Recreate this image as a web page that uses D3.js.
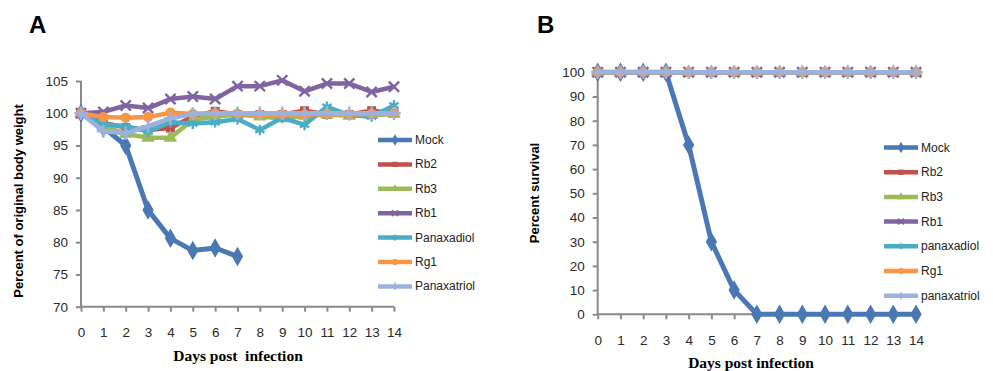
<!DOCTYPE html>
<html>
<head>
<meta charset="utf-8">
<script src="https://cdn.jsdelivr.net/npm/d3@7"></script>
<style>
  body { margin: 0; background: #fff; }
  svg { display: block; font-family: "Liberation Sans", Arial, sans-serif; }
  .tick-label { font-size: 13.5px; fill: #2a2a2a; }
  .legend-label { font-size: 12px; fill: #222; }
</style>
</head>
<body>
<svg id="chart" width="993" height="371"></svg>
<script>
// ---- data ----
const days = d3.range(0, 15);
const weightTicks = [70, 75, 80, 85, 90, 95, 100, 105];
const survivalTicks = [0, 10, 20, 30, 40, 50, 60, 70, 80, 90, 100];

// panel A: percent of original body weight
const weightMock = [100, 97.8, 95.0, 85.0, 80.6, 78.7, 79.1, 77.8];
const weightRb2 = [100, 98.5, 97.8, 97.4, 97.7, 99.5, 100.3, 99.8, 99.8, 99.8, 100.4, 99.8, 99.8, 100.4, 100];
const weightRb3 = [100, 98.0, 96.8, 96.2, 96.2, 99.0, 99.5, 99.8, 99.5, 99.2, 99.6, 99.8, 99.6, 99.7, 99.9];
const weightRb1 = [100, 100.2, 101.2, 100.8, 102.2, 102.6, 102.2, 104.2, 104.2, 105.1, 103.4, 104.6, 104.6, 103.3, 104.1];
const weightPanaxadiol = [100, 98.3, 98.0, 97.2, 98.6, 98.4, 98.6, 99.1, 97.4, 99.3, 98.2, 101.0, 99.7, 99.5, 101.2];
const weightRg1 = [100, 99.4, 99.3, 99.4, 100.1, 99.9, 100, 99.9, 99.8, 99.8, 99.8, 99.9, 99.8, 99.9, 100];
const weightPanaxatriol = [100, 97.2, 96.9, 98.0, 99.2, 99.9, 100, 100, 100, 100, 100, 100, 100, 100, 100];

// panel B: percent survival
const survivalMock = [100, 100, 100, 100, 70, 30, 10, 0, 0, 0, 0, 0, 0, 0, 0];
const survivalRb2 = [100, 100, 100, 100, 100, 100, 100, 100, 100, 100, 100, 100, 100, 100, 100];
const survivalRb3 = [100, 100, 100, 100, 100, 100, 100, 100, 100, 100, 100, 100, 100, 100, 100];
const survivalRb1 = [100, 100, 100, 100, 100, 100, 100, 100, 100, 100, 100, 100, 100, 100, 100];
const survivalPanaxadiol = [100, 100, 100, 100, 100, 100, 100, 100, 100, 100, 100, 100, 100, 100, 100];
const survivalRg1 = [100, 100, 100, 100, 100, 100, 100, 100, 100, 100, 100, 100, 100, 100, 100];
const survivalPanaxatriol = [100, 100, 100, 100, 100, 100, 100, 100, 100, 100, 100, 100, 100, 100, 100];

const namesA = ['Mock', 'Rb2', 'Rb3', 'Rb1', 'Panaxadiol', 'Rg1', 'Panaxatriol'];
const namesB = ['Mock', 'Rb2', 'Rb3', 'Rb1', 'panaxadiol', 'Rg1', 'panaxatriol'];

// ---- styling ----
const colors = ['#4a78b5', '#c0504d', '#9bbb59', '#8064a2', '#4bacc6', '#f79646', '#9bb2dc'];
const symbols = [d3.symbolDiamond, d3.symbolSquare, d3.symbolTriangle, d3.symbolX, d3.symbolAsterisk, d3.symbolCircle, d3.symbolPlus];
const symbolSizes = [110, 80, 80, 70, 80, 80, 60];
const strokeSymbols = [false, false, false, true, true, false, true];
const axisColor = '#8a8a8a';

const svg = d3.select('#chart');

function marker(g, i, x, y, scale = 1) {
  const path = d3.symbol().type(symbols[i]).size(symbolSizes[i] * scale)();
  const m = g.append('path')
    .attr('d', path)
    .attr('transform', `translate(${x},${y})`);
  if (strokeSymbols[i]) {
    m.attr('fill', 'none').attr('stroke', colors[i]).attr('stroke-width', scale < 1 ? 1.5 : 2.4);
  } else {
    m.attr('fill', colors[i]);
  }
}

function drawPanel(opts) {
  const { seriesList, names, yDomain, yTicks, xRange, yRange, legendX, legendY, legendStep } = opts;
  const g = svg.append('g');

  const x = d3.scaleLinear().domain([0, 14]).range(xRange);
  const y = d3.scaleLinear().domain(yDomain).range(yRange);

  // axes
  const xAxis = d3.axisBottom(x).tickValues(days).tickSize(5).tickPadding(16).tickFormat(d3.format('d'));
  const yAxis = d3.axisLeft(y).tickValues(yTicks).tickSize(5).tickPadding(8);

  const gx = g.append('g').attr('transform', `translate(0,${yRange[0]})`).call(xAxis);
  const gy = g.append('g').attr('transform', `translate(${xRange[0]},0)`).call(yAxis);
  [gx, gy].forEach(a => {
    a.select('.domain').attr('stroke', axisColor).attr('stroke-width', 2);
    a.selectAll('.tick line').attr('stroke', axisColor).attr('stroke-width', 2);
    a.selectAll('.tick text').attr('class', 'tick-label').attr('font-family', null).attr('font-size', null);
  });
  gx.select('.domain').attr('d', `M${xRange[0]},0H${xRange[1]}`);
  gy.select('.domain').attr('d', `M0,${yRange[0]}V${yRange[1]}`);

  // series
  const line = d3.line().x((d, i) => x(i)).y(d => y(d));
  seriesList.forEach((vals, i) => {
    const sg = g.append('g');
    sg.append('path')
      .datum(vals)
      .attr('d', line)
      .attr('fill', 'none')
      .attr('stroke', colors[i])
      .attr('stroke-width', i === 0 ? 5 : 4.5)
      .attr('stroke-linejoin', 'round');
    vals.forEach((v, j) => marker(sg, i, x(j), y(v)));
  });

  // legend
  names.forEach((name, i) => {
    const ly = legendY + i * legendStep;
    const lg = g.append('g');
    lg.append('line')
      .attr('x1', legendX).attr('x2', legendX + 34)
      .attr('y1', ly).attr('y2', ly)
      .attr('stroke', colors[i]).attr('stroke-width', 4.5);
    marker(lg, i, legendX + 17, ly, 0.35);
    lg.append('text')
      .attr('class', 'legend-label')
      .attr('x', legendX + 37).attr('y', ly + 4)
      .text(name);
  });
  return g;
}

drawPanel({
  seriesList: [weightMock, weightRb2, weightRb3, weightRb1, weightPanaxadiol, weightRg1, weightPanaxatriol],
  names: namesA,
  yDomain: [70, 105], yTicks: weightTicks,
  xRange: [81, 394], yRange: [306.7, 81],
  legendX: 378, legendY: 140, legendStep: 24.4
});

drawPanel({
  seriesList: [survivalMock, survivalRb2, survivalRb3, survivalRb1, survivalPanaxadiol, survivalRg1, survivalPanaxatriol],
  names: namesB,
  yDomain: [0, 100], yTicks: survivalTicks,
  xRange: [597.7, 916], yRange: [314.3, 72.3],
  legendX: 884, legendY: 147.5, legendStep: 24.7
});

// titles
svg.append('text').attr('x', 29).attr('y', 33)
  .attr('font-size', 24).attr('font-weight', 'bold').text('A');
svg.append('text').attr('x', 537).attr('y', 33)
  .attr('font-size', 24).attr('font-weight', 'bold').text('B');

svg.append('text')
  .attr('transform', 'translate(23,201) rotate(-90)')
  .attr('text-anchor', 'middle').attr('font-size', 13).attr('font-weight', 'bold')
  .text('Percent of original body weight');
svg.append('text')
  .attr('transform', 'translate(539,193) rotate(-90)')
  .attr('text-anchor', 'middle').attr('font-size', 13).attr('font-weight', 'bold')
  .text('Percent survival');

svg.append('text')
  .attr('x', 238).attr('y', 361)
  .attr('text-anchor', 'middle').attr('font-family', '"Liberation Serif", serif')
  .attr('font-size', 15.5).attr('font-weight', 'bold')
  .text('Days post  infection').style('white-space', 'pre');
svg.append('text')
  .attr('x', 751).attr('y', 368)
  .attr('text-anchor', 'middle').attr('font-family', '"Liberation Serif", serif')
  .attr('font-size', 15.5).attr('font-weight', 'bold')
  .text('Days post infection');
</script>
</body>
</html>
